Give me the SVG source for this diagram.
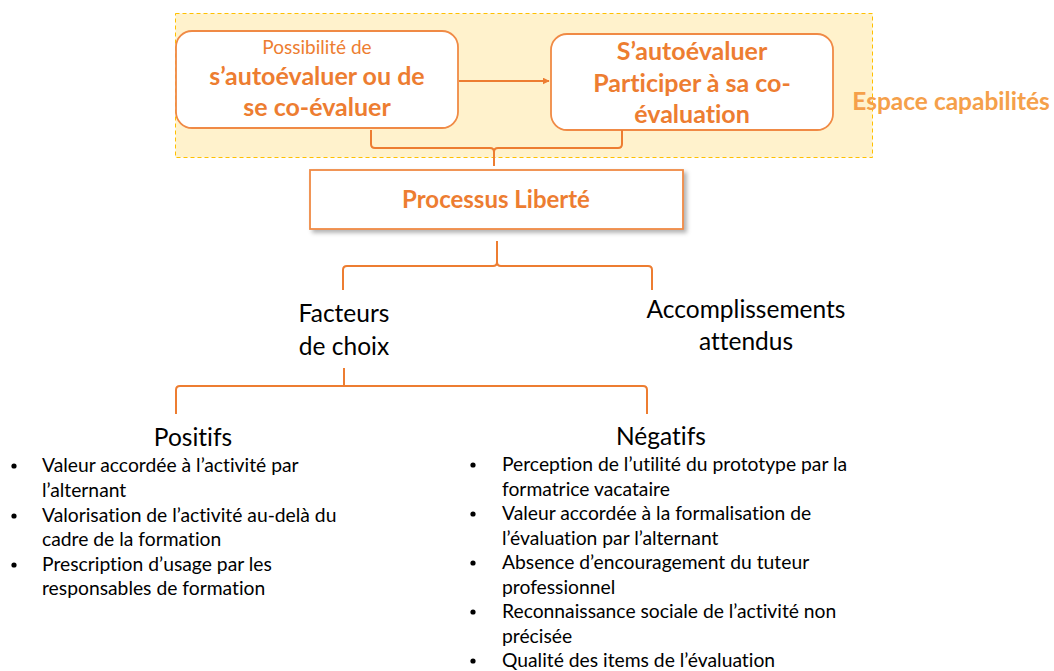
<svg xmlns="http://www.w3.org/2000/svg" width="1054" height="671" viewBox="0 0 1054 671">
<defs>
<style>
text{font-variant-ligatures:none}
.o{fill:#ED7D31;font-family:Lato,"Liberation Sans",sans-serif;text-anchor:middle}
.b{font-weight:bold}
.k{fill:#000;font-family:Lato,"Liberation Sans",sans-serif}
.c{text-anchor:middle}
.ln{fill:none;stroke:#ED7D31;stroke-width:2}
.box{fill:#fff;stroke:#F08A45;stroke-width:1.8}
.dot{fill:#000}
</style>
<marker id="ar" viewBox="0 0 10 10" refX="9" refY="5" markerWidth="3.5" markerHeight="3.5" orient="auto"><path d="M0,0L10,5L0,10z" fill="#ED7D31"/></marker>
<filter id="sh" x="-5%" y="-10%" width="115%" height="140%"><feDropShadow dx="3" dy="3" stdDeviation="2" flood-color="#000" flood-opacity="0.3"/></filter>
</defs>
<g id="espace">
<rect x="175.5" y="13.5" width="697" height="144" fill="#FFF2CC" stroke="#FFC000" stroke-width="1" stroke-dasharray="4,3"/>
<text x="951" y="110" class="o b" font-size="24.5" style="fill:#F5A04A">Espace capabilités</text>
</g>
<g id="n1">
<rect x="176" y="31" width="282" height="97" rx="16" class="box"/>
<text x="317" y="54" class="o" font-size="19">Possibilité de</text>
<text x="317" y="85" class="o b" font-size="25">s’autoévaluer ou de</text>
<text x="317" y="116" class="o b" font-size="25">se co-évaluer</text>
</g>
<g id="n2">
<rect x="551" y="34" width="282" height="96" rx="16" class="box"/>
<text x="692" y="60" class="o b" font-size="25">S’autoévaluer</text>
<text x="692" y="92" class="o b" font-size="25">Participer à sa co-</text>
<text x="692" y="123" class="o b" font-size="25">évaluation</text>
</g>
<g id="n3">
<rect x="310" y="170" width="373" height="59" class="box" filter="url(#sh)"/>
<text x="496" y="208" class="o b" font-size="24">Processus Liberté</text>
</g>
<g id="n4">
<text class="k c" font-size="24.5" x="344" y="322">Facteurs</text>
<text class="k c" font-size="24.5" x="344" y="355">de choix</text>
</g>
<g id="n5">
<text class="k c" font-size="24.5" x="746" y="318">Accomplissements</text>
<text class="k c" font-size="24.5" x="746" y="350">attendus</text>
</g>
<g id="n6">
<text class="k c" font-size="24.5" x="193" y="446">Positifs</text>
<g class="dot"><circle cx="14" cy="466" r="2.6"/><circle cx="14" cy="516" r="2.6"/><circle cx="14" cy="565" r="2.6"/></g>
<g font-size="19.3" class="k">
<text x="42" y="472">Valeur accordée à l’activité par</text>
<text x="42" y="497">l’alternant</text>
<text x="42" y="522">Valorisation de l’activité au-delà du</text>
<text x="42" y="546">cadre de la formation</text>
<text x="42" y="571">Prescription d’usage par les</text>
<text x="42" y="595">responsables de formation</text>
</g>
</g>
<g id="n7">
<text class="k c" font-size="24.5" x="661" y="445">Négatifs</text>
<g class="dot"><circle cx="473" cy="465" r="2.6"/><circle cx="473" cy="514" r="2.6"/><circle cx="473" cy="563" r="2.6"/><circle cx="473" cy="612" r="2.6"/><circle cx="473" cy="661" r="2.6"/></g>
<g font-size="19.3" class="k">
<text x="502" y="471">Perception de l’utilité du prototype par la</text>
<text x="502" y="496">formatrice vacataire</text>
<text x="502" y="520">Valeur accordée à la formalisation de</text>
<text x="502" y="545">l’évaluation par l’alternant</text>
<text x="502" y="569">Absence d’encouragement du tuteur</text>
<text x="502" y="594">professionnel</text>
<text x="502" y="618">Reconnaissance sociale de l’activité non</text>
<text x="502" y="643">précisée</text>
<text x="502" y="667">Qualité des items de l’évaluation</text>
</g>
</g>
<g id="connectors">
<line x1="459" y1="81" x2="549" y2="81" class="ln" stroke-width="3" marker-end="url(#ar)"/>
<path class="ln" d="M371,130 V144 Q371,148 375,148 H490 Q494,148 494,152 V166 M494,152 Q494,148 498,148 H618 Q622,148 622,144 V130"/>
<path class="ln" d="M497,241 V262 Q497,266 493,266 H347 Q343,266 343,270 V290 M497,262 Q497,266 501,266 H648 Q652,266 652,270 V290"/>
<path class="ln" d="M344,368 V386 M176,414 V390 Q176,386 180,386 H643 Q647,386 647,390 V414"/>
</g>
</svg>
